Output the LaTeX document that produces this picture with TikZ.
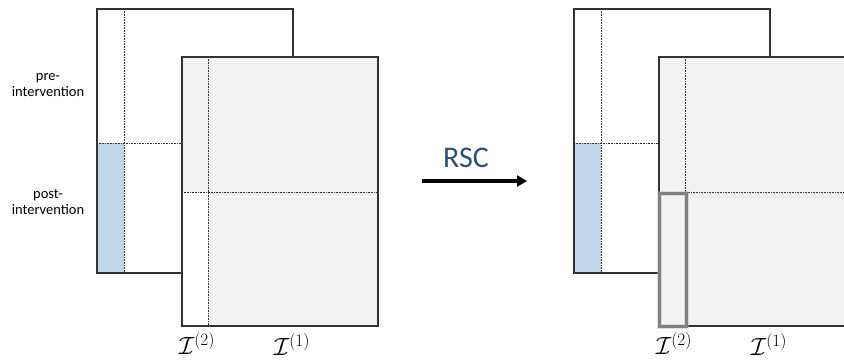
\documentclass[tikz,border=0pt]{standalone}
\usepackage{fontspec}
\newfontfamily\carl{Carlito}
\usetikzlibrary{arrows.meta}
\definecolor{edge}{HTML}{333333}
\definecolor{bluefill}{HTML}{C2D6EB}
\definecolor{greyfill}{HTML}{F2F2F2}
\definecolor{rscblue}{HTML}{2E4E7A}
\definecolor{hl}{HTML}{808080}
\begin{document}
\begin{tikzpicture}[x=1pt,y=-1pt,
  frame/.style={draw=edge,line width=1.3pt},
  dots/.style={draw=edge,line width=0.9pt,dash pattern=on 0.8pt off 0.8pt},
  lbl/.style={font=\carl\fontsize{14.5}{16.5}\selectfont,align=center,inner sep=0pt},
  mathlbl/.style={font=\fontsize{23}{26}\selectfont,inner sep=0pt}]
\useasboundingbox (0,0) rectangle (844,362);
\clip (0,0) rectangle (844,362);
% side labels
\node[lbl] (pre) at (48,85) {pre-\\intervention};
\node[lbl] (post) at (48,202) {post-\\intervention};
% panels
\foreach \dx/\side in {0/L,477/R}{
  \begin{scope}[xshift=\dx]
    % back matrix
    \fill[white] (97,9) rectangle (293,273);
    \fill[bluefill] (97,143) rectangle (124,273);
    \draw[dots] (124,9) -- (124,273);
    \draw[dots] (97,143) -- (182,143);
    \draw[frame] (97,9) rectangle (293,273);
    % front matrix
    \fill[greyfill] (182,57) rectangle (378,326);
    \if\side L
      \fill[white] (182,192) rectangle (208,326);
    \fi
    \draw[dots] (208,57) -- (208,326);
    \draw[dots] (182,192) -- (378,192);
    \draw[frame] (182,57) rectangle (378,326);
    \node[mathlbl] (i2\side) at (197,344) {$\mathcal{I}^{(2)}$};
    \node[mathlbl] (i1\side) at (292,345) {$\mathcal{I}^{(1)}$};
  \end{scope}
}
% highlight in the right panel
\draw[black!30,line width=5pt,opacity=0.4] (659,193) rectangle (686,326);
\draw[hl,line width=3pt] (659,193) rectangle (686,326);
% arrow
\coordinate (aS) at (422,181);
\coordinate (aE) at (527,181);
\draw[line width=3.2pt,-{Triangle[length=10pt,width=11pt]}] (aS) -- (aE);
\node[font=\carl\fontsize{30}{32}\selectfont,text=rscblue,inner sep=0pt] (rsc) at (466,158) {RSC};
\end{tikzpicture}
\end{document}
